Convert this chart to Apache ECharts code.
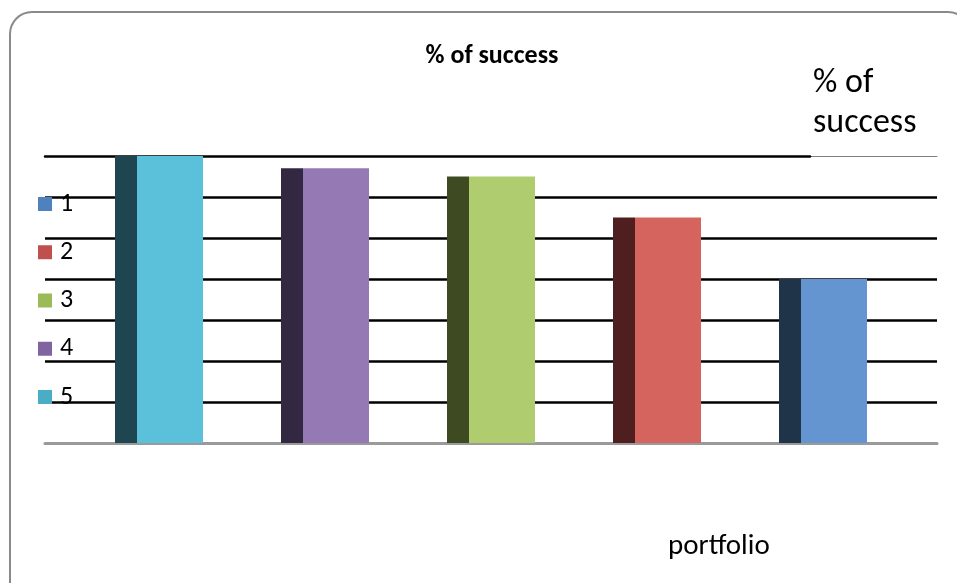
<!DOCTYPE html>
<html>
<head>
<meta charset="utf-8">
<script src="https://cdn.jsdelivr.net/npm/echarts@6/dist/echarts.min.js"></script>
<style>
html,body{margin:0;padding:0;background:#fff;}
#c{width:957px;height:583px;}
</style>
</head>
<body>
<div id="c"></div>
<script>
// ---- data ----
var categories = ['1', '2', '3', '4', '5'];
var values = [40, 55, 65, 67, 70];          // % of success
var legendColors = ['#4F81BD', '#C0504D', '#9BBB59', '#8064A2', '#4BACC6'];
var frontColors = ['#6495D1', '#D5645F', '#AFCD6E', '#9479B4', '#5BC0DA'];
var sideColors = ['#1F3349', '#4F1F1F', '#3E4A22', '#332841', '#1F4650'];
var chartTitle = '% of success';
var seriesTitle = '% of\nsuccess';
var axisTitle = 'portfolio';

var FONT = 'Carlito, Lato, "Open Sans", sans-serif';

var chart = echarts.init(document.getElementById('c'));

var series = [];
categories.forEach(function (cat, i) {
  var d = categories.map(function (c, j) { return j === i ? values[j] : null; });
  series.push({
    name: 'side-' + cat, type: 'bar', stack: 'side', xAxisIndex: 3, yAxisIndex: 2,
    barWidth: 22, barGap: '0%', data: d, silent: true,
    itemStyle: { color: sideColors[i] }
  });
});
categories.forEach(function (cat, i) {
  var d = categories.map(function (c, j) { return j === i ? values[j] : null; });
  series.push({
    name: cat, type: 'bar', stack: 'front', xAxisIndex: 3, yAxisIndex: 2,
    barWidth: 66, barGap: '0%', data: d,
    itemStyle: { color: frontColors[i] }
  });
});

var option = {
  animation: false,
  backgroundColor: '#fff',
  title: [
    { text: chartTitle, left: 487, top: 36, textAlign: 'center',
      textStyle: { fontFamily: FONT, fontSize: 26, fontWeight: 'bold', color: '#000', lineHeight: 30 } },
    { text: seriesTitle, left: 808, top: 58,
      textStyle: { fontFamily: FONT, fontSize: 34, fontWeight: 'normal', color: '#000', lineHeight: 40 } },
    { text: axisTitle, left: 663, top: 524,
      textStyle: { fontFamily: FONT, fontSize: 29, fontWeight: 'normal', color: '#000', lineHeight: 36 } }
  ],
  legend: {
    orient: 'vertical', left: 38, top: 191, padding: 0,
    itemWidth: 14, itemHeight: 14, itemGap: 22.25, icon: 'rect',
    textStyle: { fontFamily: FONT, fontSize: 26, color: '#000', lineHeight: 26, padding: [0, 0, 0, 3] },
    data: categories.map(function (c, i) { return { name: c, itemStyle: { color: legendColors[i] } }; })
  },
  graphic: [{
    type: 'rect', z: -1, silent: true,
    shape: { x: 10, y: 12, width: 960, height: 600, r: 22 },
    style: { fill: 'none', stroke: '#8a8a8a', lineWidth: 2 }
  }],
  grid: [
    { left: 45, right: 20, top: 156, bottom: 140 },
    { left: 45, right: 147, top: 156, bottom: 140 },
    { left: 76, right: 51, top: 156, bottom: 140 }
  ],
  xAxis: [
    { gridIndex: 0, type: 'category', data: categories, position: 'bottom',
      axisLine: { show: true, onZero: false, lineStyle: { color: '#9a9a9a', width: 3 } },
      axisTick: { show: false }, axisLabel: { show: false }, splitLine: { show: false } },
    { gridIndex: 0, type: 'category', data: categories, position: 'top',
      axisLine: { show: true, onZero: false, lineStyle: { color: '#808080', width: 1 } },
      axisTick: { show: false }, axisLabel: { show: false }, splitLine: { show: false } },
    { gridIndex: 1, type: 'category', data: categories, position: 'top',
      axisLine: { show: true, onZero: false, lineStyle: { color: '#000', width: 2.5 } },
      axisTick: { show: false }, axisLabel: { show: false }, splitLine: { show: false } },
    { gridIndex: 2, type: 'category', data: categories, inverse: true,
      axisLine: { show: false }, axisTick: { show: false }, axisLabel: { show: false }, splitLine: { show: false } }
  ],
  yAxis: [
    { gridIndex: 0, type: 'value', min: 0, max: 70, interval: 10,
      axisLine: { show: false }, axisTick: { show: false }, axisLabel: { show: false },
      splitLine: { show: true, showMinLine: false, showMaxLine: false, lineStyle: { color: '#000', width: 2.5 } } },
    { gridIndex: 1, type: 'value', min: 0, max: 70, interval: 10, show: false, splitLine: { show: false } },
    { gridIndex: 2, type: 'value', min: 0, max: 70, interval: 10, show: false, splitLine: { show: false } }
  ],
  series: series
};
chart.setOption(option);
</script>
</body>
</html>
